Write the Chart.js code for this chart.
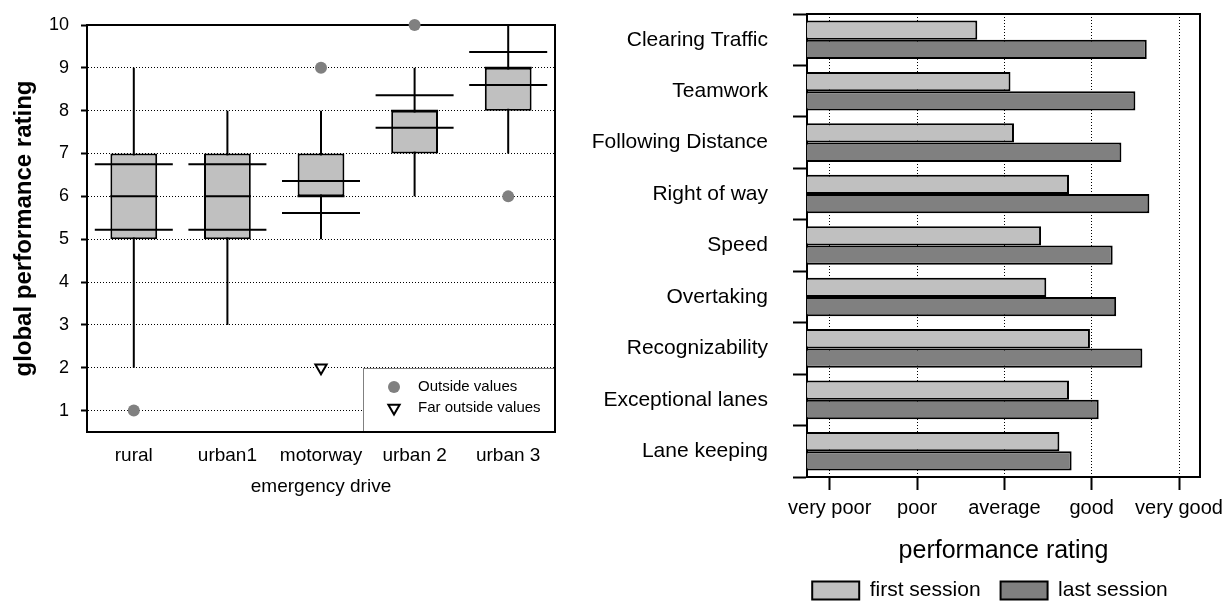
<!DOCTYPE html>
<html>
<head>
<meta charset="utf-8">
<script src="https://cdn.jsdelivr.net/npm/chart.js@4.4.1/dist/chart.umd.min.js"></script>
<style>
  html, body { margin: 0; padding: 0; background: #fff; overflow: hidden; width: 1226px; height: 604px; }
  #boxWrap { position: absolute; left: 0; top: 0; width: 580px; height: 510px; }
  #barWrap { position: absolute; left: 580px; top: 0; width: 646px; height: 611px; }
</style>
</head>
<body>
<div id="boxWrap"><canvas id="boxChart" width="580" height="510"></canvas></div>
<div id="barWrap"><canvas id="barChart" width="646" height="611"></canvas></div>
<script>
const FONT = "'Liberation Sans', Arial, Helvetica, sans-serif";

// ---- Global performance rating per emergency drive (box plots) ----
const drives = ['rural', 'urban1', 'motorway', 'urban 2', 'urban 3'];
const whiskerLow = [2, 3, 5, 6, 7];
const whiskerHigh = [9, 8, 8, 9, 10];
const quartileLow = [5, 5, 6, 7, 8];
const quartileHigh = [7, 7, 7, 8, 9];
const medians = [6, 6, 6, 8, 9];
const meanBandLow = [5.22, 5.22, 5.61, 7.60, 8.60];
const meanBandHigh = [6.75, 6.75, 6.36, 8.36, 9.37];
const outsideValues = [
  { x: 'rural', y: 1 },
  { x: 'motorway', y: 9 },
  { x: 'urban 2', y: 10 },
  { x: 'urban 3', y: 6 }
];
const farOutsideValues = [{ x: 'motorway', y: 2 }];
const globalTicks = [1, 2, 3, 4, 5, 6, 7, 8, 9, 10];

// ---- Performance rating per driving skill, first vs last session ----
const skills = ['Clearing Traffic', 'Teamwork', 'Following Distance', 'Right of way', 'Speed',
                'Overtaking', 'Recognizability', 'Exceptional lanes', 'Lane keeping'];
const firstSession = [2.69, 3.07, 3.11, 3.74, 3.42, 3.48, 3.98, 3.74, 3.63];
const lastSession = [4.63, 4.50, 4.34, 4.66, 4.24, 4.28, 4.58, 4.08, 3.77];
const ratingValues = [1, 2, 3, 4, 5];
const ratingLabels = ['very poor', 'poor', 'average', 'good', 'very good'];

const LIGHT = '#c0c0c0';
const DARK = '#808080';

Chart.defaults.font.family = FONT;
Chart.defaults.color = '#000';
Chart.defaults.animation = false;
Chart.defaults.events = [];
Chart.defaults.plugins.tooltip.enabled = false;

// plot frame around the chart area
const framePlugin = {
  id: 'frame',
  beforeDatasetsDraw(chart) {
    const { ctx, chartArea: a } = chart;
    ctx.save();
    ctx.strokeStyle = '#000';
    ctx.lineWidth = 2;
    ctx.strokeRect(a.left, a.top, a.right - a.left, a.bottom - a.top);
    ctx.restore();
  }
};

// key for the outlier symbols, bottom-right corner of the box plot
const outlierKey = {
  id: 'outlierKey',
  beforeDatasetsDraw(chart) {
    const { ctx, chartArea: a } = chart;
    const w = 192, h = 64;
    const x = Math.round(a.right - w), y = Math.round(a.bottom - h);
    ctx.save();
    ctx.fillStyle = '#fff';
    ctx.fillRect(x, y, w, h);
    ctx.strokeStyle = '#808080';
    ctx.lineWidth = 1;
    ctx.strokeRect(x + 0.5, y + 0.5, w, h);

    // circle symbol
    ctx.fillStyle = DARK;
    ctx.beginPath();
    ctx.arc(x + 31, y + 19, 6, 0, Math.PI * 2);
    ctx.fill();

    // downward triangle symbol
    const tx = x + 31, ty = y + 40, r = 6.5;
    ctx.beginPath();
    ctx.moveTo(tx - r * Math.sin(Math.PI / 3), ty - r / 2);
    ctx.lineTo(tx + r * Math.sin(Math.PI / 3), ty - r / 2);
    ctx.lineTo(tx, ty + r);
    ctx.closePath();
    ctx.fillStyle = '#fff';
    ctx.fill();
    ctx.strokeStyle = '#000';
    ctx.lineWidth = 2;
    ctx.stroke();

    ctx.fillStyle = '#000';
    ctx.font = '15px ' + FONT;
    ctx.textBaseline = 'middle';
    ctx.textAlign = 'left';
    ctx.fillText('Outside values', x + 55, y + 19);
    ctx.fillText('Far outside values', x + 55, y + 40);
    ctx.restore();
  }
};

// centre the session legend a little left of the plot centre
const legendPlacement = {
  id: 'legendPlacement',
  afterLayout(chart) {
    const lg = chart.legend, a = chart.chartArea;
    if (!lg) return;
    lg.left = a.left - 27;
    lg.right = a.right;
    lg.width = lg.right - lg.left;
  }
};

const hLine = (data, radius, order) => ({
  type: 'line',
  data,
  showLine: false,
  pointStyle: 'line',
  pointRadius: radius,
  pointBorderWidth: 2,
  pointBorderColor: '#000',
  pointBackgroundColor: '#000',
  clip: false,
  order
});

new Chart(document.getElementById('boxChart'), {
  type: 'bar',
  data: {
    labels: drives,
    datasets: [
      {
        label: 'range',
        data: drives.map((_, i) => [whiskerLow[i], whiskerHigh[i]]),
        backgroundColor: '#000',
        borderWidth: 0,
        maxBarThickness: 2,
        grouped: false,
        order: 5
      },
      {
        label: 'quartiles',
        data: drives.map((_, i) => [quartileLow[i], quartileHigh[i]]),
        backgroundColor: LIGHT,
        borderColor: '#000',
        borderWidth: 2,
        borderSkipped: false,
        barPercentage: 0.5,
        categoryPercentage: 1,
        grouped: false,
        order: 4
      },
      Object.assign(hLine(medians, 23.5, 3), { label: 'median' }),
      Object.assign(hLine(meanBandHigh, 39, 2), { label: 'upper' }),
      Object.assign(hLine(meanBandLow, 39, 2), { label: 'lower' }),
      {
        type: 'line',
        label: 'Outside values',
        data: outsideValues,
        showLine: false,
        pointStyle: 'circle',
        pointRadius: 6,
        pointBackgroundColor: DARK,
        pointBorderWidth: 0,
        clip: false,
        order: 0
      },
      {
        type: 'line',
        label: 'Far outside values',
        data: farOutsideValues,
        showLine: false,
        pointStyle: 'triangle',
        pointRotation: 180,
        pointRadius: 6.5,
        pointBackgroundColor: '#fff',
        pointBorderColor: '#000',
        pointBorderWidth: 2,
        clip: false,
        order: 0
      }
    ]
  },
  options: {
    responsive: false,
    devicePixelRatio: 1,
    layout: { autoPadding: false, padding: { left: 0, right: 25, top: 25, bottom: 0 } },
    plugins: { legend: { display: false } },
    scales: {
      x: {
        grid: { display: false, drawTicks: false },
        border: { display: true, color: '#000', width: 2 },
        ticks: { font: { size: 19 }, padding: 12, maxRotation: 0, autoSkip: false },
        title: { display: true, text: 'emergency drive', font: { size: 19 }, padding: { top: 0, bottom: 12 } },
        afterFit: s => { s.height = 78; s.paddingLeft = 0; s.paddingRight = 0; }
      },
      y: {
        type: 'linear',
        min: 0.5,
        max: 10,
        afterBuildTicks: s => { s.ticks = globalTicks.map(v => ({ value: v })); },
        grid: { color: '#000', lineWidth: 1, tickLength: 6, tickWidth: 2, tickColor: '#000', tickBorderDash: [] },
        border: { color: '#000', width: 2, dash: [1, 2] },
        ticks: { font: { size: 18 }, padding: 12 },
        title: { display: true, text: 'global performance rating', font: { size: 24, weight: 'bold' }, padding: { top: 10, bottom: 0 } },
        afterFit: s => { s.width = 87; s.paddingTop = 0; s.paddingBottom = 0; }
      }
    }
  },
  plugins: [outlierKey, framePlugin]
});

new Chart(document.getElementById('barChart'), {
  type: 'bar',
  data: {
    labels: skills,
    datasets: [
      { label: 'first session', data: firstSession, backgroundColor: LIGHT, borderColor: '#000', borderWidth: 2 },
      { label: 'last session', data: lastSession, backgroundColor: DARK, borderColor: '#000', borderWidth: 2 }
    ]
  },
  options: {
    indexAxis: 'y',
    responsive: false,
    devicePixelRatio: 1,
    layout: { autoPadding: false, padding: { left: 0, right: 26, top: 14, bottom: 0 } },
    datasets: { bar: { categoryPercentage: 0.75, barPercentage: 1 } },
    plugins: {
      legend: {
        position: 'bottom',
        labels: { boxWidth: 47, boxHeight: 18, padding: 20, font: { size: 21 }, color: '#000' }
      }
    },
    scales: {
      x: {
        type: 'linear',
        min: 0.74,
        max: 5.24,
        afterBuildTicks: s => { s.ticks = ratingValues.map(v => ({ value: v })); },
        ticks: {
          font: { size: 20 },
          padding: 6,
          maxRotation: 0,
          autoSkip: false,
          callback: v => ratingLabels[ratingValues.indexOf(v)]
        },
        grid: { color: '#000', lineWidth: 1, tickLength: 13, tickWidth: 2, tickColor: '#000', tickBorderDash: [] },
        border: { color: '#000', width: 2, dash: [1, 2] },
        title: { display: true, text: 'performance rating', font: { size: 25 }, padding: { top: 0, bottom: -6 } },
        afterFit: s => { s.height = 83; s.paddingLeft = 0; s.paddingRight = 0; }
      },
      y: {
        grid: { offset: true, drawOnChartArea: false, tickLength: 14, tickWidth: 2, color: '#000' },
        border: { color: '#000', width: 2 },
        ticks: { font: { size: 21 }, padding: 25, autoSkip: false },
        afterFit: s => { s.width = 227; s.paddingTop = 0; s.paddingBottom = 0; }
      }
    }
  },
  plugins: [framePlugin, legendPlacement]
});
</script>
</body>
</html>
